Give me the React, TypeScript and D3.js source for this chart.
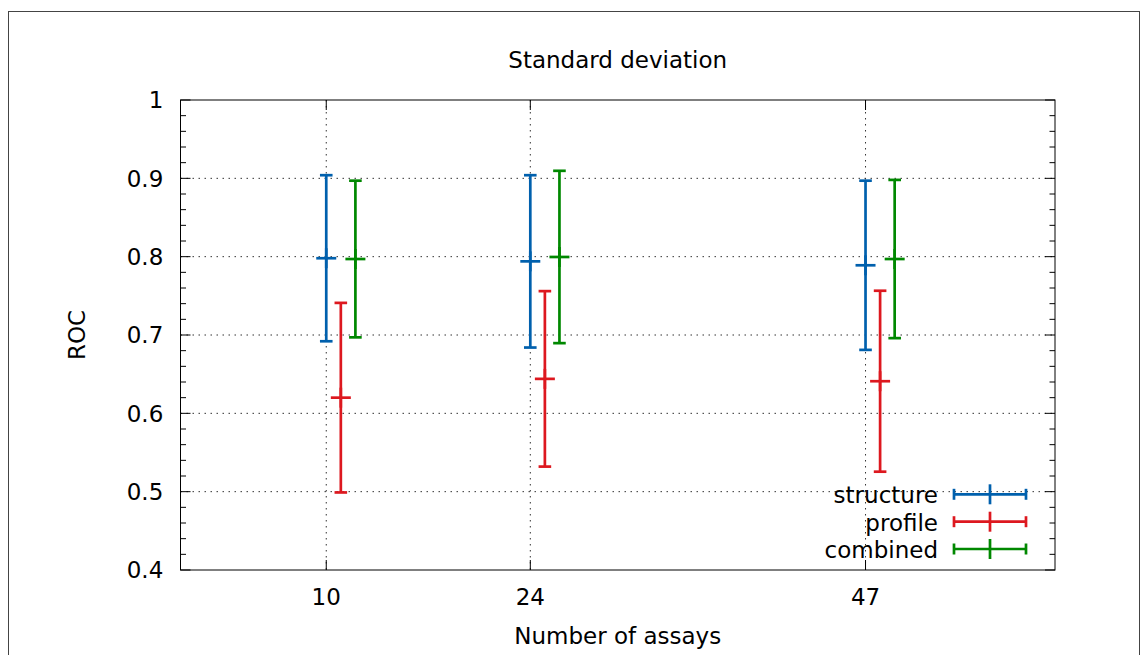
import React from "react";
import * as d3 from "d3";

// Number of assays at which each method was evaluated
const assays = [10, 24, 47];
const seriesNames = ["structure", "profile", "combined"];
const seriesColors = ["#0060ad", "#dd181f", "#008800"];
// Horizontal offset (in assay units) so the three bars sit side by side
const seriesOffsets = [0, 1, 2];

// Mean ROC and its standard deviation per series
const structureMean = [0.798, 0.794, 0.789];
const structureSd = [0.106, 0.110, 0.108];
const profileMean = [0.620, 0.644, 0.641];
const profileSd = [0.121, 0.112, 0.1155];
const combinedMean = [0.797, 0.7996, 0.797];
const combinedSd = [0.100, 0.110, 0.101];

const yTicks = [0.4, 0.5, 0.6, 0.7, 0.8, 0.9, 1.0];
const yTickLabels = ["0.4", "0.5", "0.6", "0.7", "0.8", "0.9", "1"];

const W = 1140;
const H = 647;
const box = { left: 172.5, right: 1047, top: 92, bottom: 562 };
const FONT = "'DejaVu Sans', sans-serif";
const FS = 23;

export default function App() {
  const x = d3.scaleLinear().domain([0, 60]).range([box.left, box.right]);
  const y = d3.scaleLinear().domain([0.4, 1.0]).range([box.bottom, box.top]);

  const means = [structureMean, profileMean, combinedMean];
  const sds = [structureSd, profileSd, combinedSd];

  const minorTicks = d3.range(0.4, 1.0001, 0.02).map((v) => +v.toFixed(2));

  const capHalf = 6.3;
  const plusHalf = 10;
  const lw = 2.7;

  const legendTextX = 930;
  const legendX0 = 946;
  const legendX1 = 1018;
  const legendRows = [486.3, 513.7, 541];

  return (
    <svg width={W} height={H} style={{ display: "block" }} fontFamily={FONT}>
      <rect x={0.5} y={3.5} width={1131} height={700} fill="white" stroke="#444" strokeWidth={1} />

      {/* grid */}
      {yTicks.slice(1, -1).map((v) => (
        <line key={"gy" + v} x1={box.left} x2={box.right} y1={y(v)} y2={y(v)}
          stroke="#333" strokeWidth={1} strokeDasharray="1.5,4.5" />
      ))}
      {assays.map((a) => (
        <line key={"gx" + a} x1={x(a)} x2={x(a)} y1={box.top} y2={box.bottom}
          stroke="#333" strokeWidth={1} strokeDasharray="1.5,4.5" />
      ))}

      {/* y ticks (left and mirrored right) */}
      {minorTicks.map((v) => {
        const major = yTicks.some((t) => Math.abs(t - v) < 1e-6);
        const len = major ? 10 : 5.5;
        return (
          <g key={"yt" + v}>
            <line x1={box.left} x2={box.left + len} y1={y(v)} y2={y(v)} stroke="black" strokeWidth={1} />
            <line x1={box.right} x2={box.right - len} y1={y(v)} y2={y(v)} stroke="black" strokeWidth={1} />
          </g>
        );
      })}
      {yTicks.map((v, i) => (
        <text key={"yl" + v} x={155.3} y={y(v) + 8.4} textAnchor="end" fontSize={FS} fill="black">
          {yTickLabels[i]}
        </text>
      ))}

      {/* x ticks */}
      {assays.map((a) => (
        <g key={"xt" + a}>
          <line x1={x(a)} x2={x(a)} y1={box.bottom} y2={box.bottom - 10} stroke="black" strokeWidth={1} />
          <line x1={x(a)} x2={x(a)} y1={box.top} y2={box.top + 10} stroke="black" strokeWidth={1} />
          <text x={x(a)} y={597} textAnchor="middle" fontSize={FS} fill="black">{a}</text>
        </g>
      ))}

      {/* frame */}
      <rect x={box.left} y={box.top} width={box.right - box.left} height={box.bottom - box.top}
        fill="none" stroke="black" strokeWidth={1} />

      {/* error bars */}
      {seriesNames.map((name, si) => (
        <g key={name} stroke={seriesColors[si]} strokeWidth={lw} fill="none">
          {assays.map((a, i) => {
            const cx = x(a + seriesOffsets[si]);
            const m = means[si][i];
            const s = sds[si][i];
            const yHi = y(m + s);
            const yLo = y(m - s);
            const yc = y(m);
            return (
              <g key={a}>
                <line x1={cx} x2={cx} y1={yHi} y2={yLo} />
                <line x1={cx - capHalf} x2={cx + capHalf} y1={yHi} y2={yHi} />
                <line x1={cx - capHalf} x2={cx + capHalf} y1={yLo} y2={yLo} />
                <line x1={cx - plusHalf} x2={cx + plusHalf} y1={yc} y2={yc} />
                <line x1={cx} x2={cx} y1={yc - plusHalf} y2={yc + plusHalf} />
              </g>
            );
          })}
        </g>
      ))}

      {/* legend */}
      {seriesNames.map((name, si) => {
        const ry = legendRows[si];
        const mid = (legendX0 + legendX1) / 2;
        return (
          <g key={"lg" + name}>
            <text x={legendTextX} y={ry + 9} textAnchor="end" fontSize={FS} fill="black">{name}</text>
            <g stroke={seriesColors[si]} strokeWidth={lw}>
              <line x1={legendX0} x2={legendX1} y1={ry} y2={ry} />
              <line x1={legendX0} x2={legendX0} y1={ry - 5.5} y2={ry + 5.5} />
              <line x1={legendX1} x2={legendX1} y1={ry - 5.5} y2={ry + 5.5} />
              <line x1={mid} x2={mid} y1={ry - plusHalf} y2={ry + plusHalf} />
            </g>
          </g>
        );
      })}

      {/* titles */}
      <text x={(box.left + box.right) / 2} y={60.3} textAnchor="middle" fontSize={FS} fill="black">
        Standard deviation
      </text>
      <text x={(box.left + box.right) / 2} y={636} textAnchor="middle" fontSize={FS} fill="black">
        Number of assays
      </text>
      <text transform={`translate(77, ${(box.top + box.bottom) / 2}) rotate(-90)`} textAnchor="middle"
        fontSize={FS} fill="black">
        ROC
      </text>
    </svg>
  );
}
